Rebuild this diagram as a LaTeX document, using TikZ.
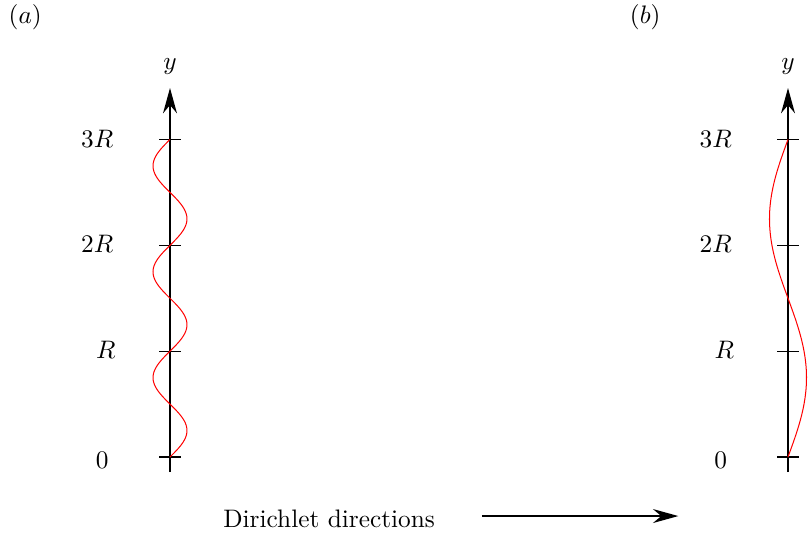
\documentclass[tikz,border=0pt]{standalone}
\usepackage{amsmath,amssymb}
\usepackage{tikz}
\usetikzlibrary{calc,arrows.meta,positioning}

\begin{document}
\begin{tikzpicture}[>={Stealth[length=10pt,width=5.5pt]}]
\useasboundingbox (-2.361,-1.111) rectangle (8.861,6.347);
\tikzset{axis/.style={line width=0.8pt,->}, tick/.style={line width=0.4pt}, wave/.style={red,line width=0.4pt}}

% panel (a)
\node (la) at (-2.01,6.11) {$(a)$};
\coordinate (Abot) at (0,-0.21);
\coordinate (Atop) at (0,5.125);
\draw[axis] (Abot) -- (Atop);
\node (ya) at (0,5.43) {$y$};
\draw[tick] (-0.146,0) -- (0.146,0);
\draw[tick] (-0.146,1.47) -- (0.146,1.47);
\draw[tick] (-0.146,2.94) -- (0.146,2.94);
\draw[tick] (-0.146,4.41) -- (0.146,4.41);
\node (a0) at (-0.94,-0.05) {$0$};
\node (aR) at (-0.89,1.49) {$R$};
\node (a2R) at (-1.01,2.96) {$2R$};
\node (a3R) at (-1.01,4.42) {$3R$};
\draw[wave] plot[domain=0:4.41,samples=150,smooth] ({0.236*sin(360*\x/1.47)},\x);

% panel (b)
\node (lb) at (6.6,6.11) {$(b)$};
\coordinate (Bbot) at (8.583,-0.21);
\coordinate (Btop) at (8.583,5.125);
\draw[axis] (Bbot) -- (Btop);
\node (yb) at (8.583,5.43) {$y$};
\draw[tick] (8.437,0) -- (8.729,0);
\draw[tick] (8.437,1.47) -- (8.729,1.47);
\draw[tick] (8.437,2.94) -- (8.729,2.94);
\draw[tick] (8.437,4.41) -- (8.729,4.41);
\node (b0) at (7.65,-0.05) {$0$};
\node (bR) at (7.70,1.49) {$R$};
\node (b2R) at (7.58,2.96) {$2R$};
\node (b3R) at (7.58,4.42) {$3R$};
\draw[wave] plot[domain=0:4.41,samples=100,smooth] ({8.583+0.257*sin(360*\x/4.41)},\x);

% direction
\node (dir) at (2.21,-0.86) {Dirichlet directions};
\coordinate (dstart) at (4.33,-0.82);
\coordinate (dend) at (7.06,-0.82);
\draw[line width=0.8pt,->] (dstart) -- (dend);
\end{tikzpicture}
\end{document}
